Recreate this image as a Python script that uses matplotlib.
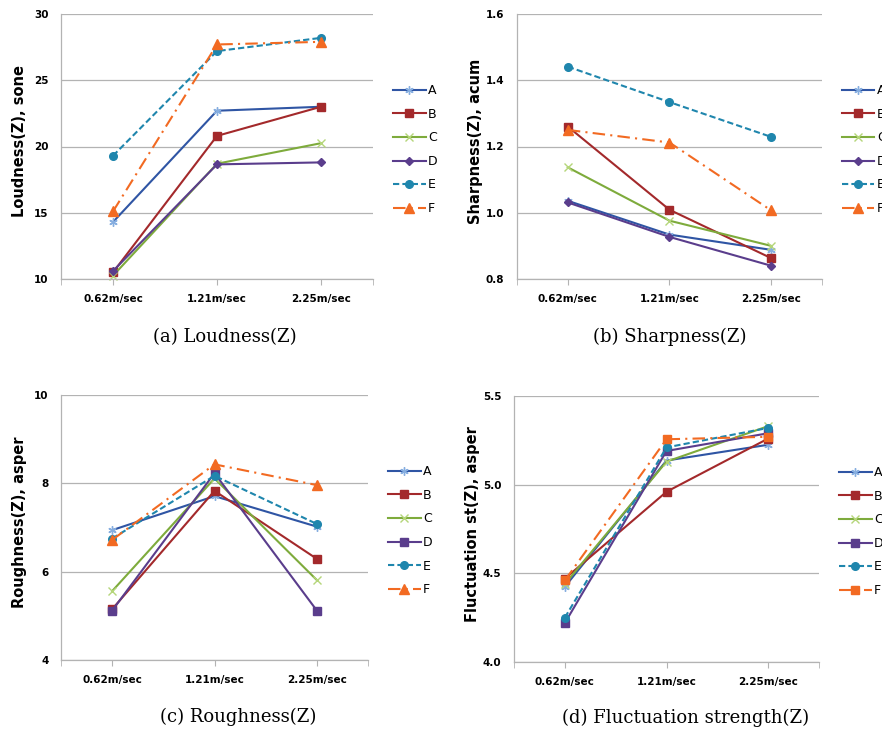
import matplotlib
matplotlib.use("Agg")
import matplotlib.pyplot as plt
from matplotlib.ticker import FormatStrFormatter

speeds = ["0.62m/sec", "1.21m/sec", "2.25m/sec"]
series_names = ["A", "B", "C", "D", "E", "F"]

loudness = {
    "A": [14.3, 22.7, 23.0],
    "B": [10.5, 20.8, 23.0],
    "C": [10.25, 18.7, 20.25],
    "D": [10.6, 18.65, 18.8],
    "E": [19.3, 27.2, 28.2],
    "F": [15.1, 27.7, 27.9],
}
sharpness = {
    "A": [1.036, 0.934, 0.888],
    "B": [1.26, 1.009, 0.863],
    "C": [1.137, 0.976, 0.90],
    "D": [1.031, 0.927, 0.84],
    "E": [1.441, 1.334, 1.229],
    "F": [1.25, 1.212, 1.007],
}
roughness = {
    "A": [6.94, 7.71, 7.02],
    "B": [5.15, 7.83, 6.29],
    "C": [5.56, 8.11, 5.81],
    "D": [5.12, 8.23, 5.12],
    "E": [6.75, 8.17, 7.08],
    "F": [6.72, 8.43, 7.96],
}
fluctuation = {
    "A": [4.424, 5.136, 5.225],
    "B": [4.47, 4.96, 5.26],
    "C": [4.44, 5.13, 5.33],
    "D": [4.22, 5.19, 5.29],
    "E": [4.25, 5.21, 5.32],
    "F": [4.46, 5.256, 5.27],
}

colors = {
    "A": "#2f55a4", "B": "#a3292b", "C": "#7eab3c",
    "D": "#5a3d8c", "E": "#1f86ad", "F": "#f26a22",
}
marker_colors = {
    "A": "#86aee0", "B": "#a3292b", "C": "#b5d67a",
    "D": "#5a3d8c", "E": "#1f86ad", "F": "#f26a22",
}
styles = {"A": "-", "B": "-", "C": "-", "D": "-", "E": (0, (3, 1.5)), "F": (0, (6, 2.5, 1, 2.5))}
asterisk = (6, 2, 0)

panels = [
    # data, ylabel, ylim, yticks, fmt, caption, axes box (px), caption pos, D marker, F marker
    (loudness, "Loudness(Z), sone", (10, 30), [10, 15, 20, 25, 30], "%d",
     "(a) Loudness(Z)", (61, 14, 373, 279), (225, 337), "D", "^"),
    (sharpness, "Sharpness(Z), acum", (0.8, 1.6), [0.8, 1.0, 1.2, 1.4, 1.6], "%.1f",
     "(b) Sharpness(Z)", (517, 14, 822, 279), (670, 337), "D", "^"),
    (roughness, "Roughness(Z), asper", (4, 10), [4, 6, 8, 10], "%d",
     "(c) Roughness(Z)", (61, 395, 368, 660), (238, 717), "s", "^"),
    (fluctuation, "Fluctuation st(Z), asper", (4.0, 5.5), [4.0, 4.5, 5.0, 5.5], "%.1f",
     "(d) Fluctuation strength(Z)", (514, 396, 819, 662), (686, 718), "s", "s"),
]

W, H = 882, 733
fig = plt.figure(figsize=(W / 100, H / 100), dpi=100)

grid_c = "#b3b3b3"

for data, ylabel, ylim, yticks, fmt, caption, box, cap, d_mk, f_mk in panels:
    x0, y0, x1, y1 = box
    ax = fig.add_axes([x0 / W, 1 - y1 / H, (x1 - x0) / W, (y1 - y0) / H])
    markers = {"A": asterisk, "B": "s", "C": "x", "D": d_mk, "E": "o", "F": f_mk}
    sizes = {"A": 6, "B": 6, "C": 5.5, "D": 4.5 if d_mk == "D" else 6, "E": 5.5, "F": 6 if f_mk == "s" else 6.5}
    for name in series_names:
        ax.plot(range(len(speeds)), data[name], color=colors[name], linestyle=styles[name],
                linewidth=1.5, marker=markers[name], markersize=sizes[name],
                markerfacecolor=marker_colors[name], markeredgecolor=marker_colors[name],
                markeredgewidth=1.0, label=name, clip_on=False)
    ax.set_xlim(-0.5, 2.5)
    ax.set_ylim(*ylim)
    ax.set_yticks(yticks)
    ax.yaxis.set_major_formatter(FormatStrFormatter(fmt))
    ax.set_xticks(range(len(speeds)))
    ax.set_xticklabels(speeds)
    ax.set_xticks([-0.5, 2.5], minor=True)
    ax.grid(axis="y", color=grid_c, linewidth=0.9)
    ax.set_axisbelow(True)
    for s in ["top", "right"]:
        ax.spines[s].set_visible(False)
    for s in ["left", "bottom"]:
        ax.spines[s].set_color(grid_c)
        ax.spines[s].set_linewidth(0.9)
    ax.tick_params(axis="x", which="both", length=4, color=grid_c, pad=7)
    ax.tick_params(axis="y", length=0, pad=9)
    for lbl in ax.get_xticklabels() + ax.get_yticklabels():
        lbl.set_fontweight("bold")
        lbl.set_fontsize(7.5)
    ax.set_ylabel(ylabel, fontsize=10.5, fontweight="bold")
    ax.yaxis.set_label_coords(-0.11, 0.52)
    ax.legend(loc="upper left", bbox_to_anchor=(1 + 20 / (x1 - x0), 1 - 70 / (y1 - y0)),
              frameon=False, fontsize=9, handlelength=2.6, handletextpad=0.2,
              labelspacing=0.85, borderpad=0, borderaxespad=0)
    fig.text(cap[0] / W, 1 - cap[1] / H, caption, ha="center", va="center",
             family="DejaVu Serif", fontsize=13)

fig.savefig("out.png", dpi=100)
